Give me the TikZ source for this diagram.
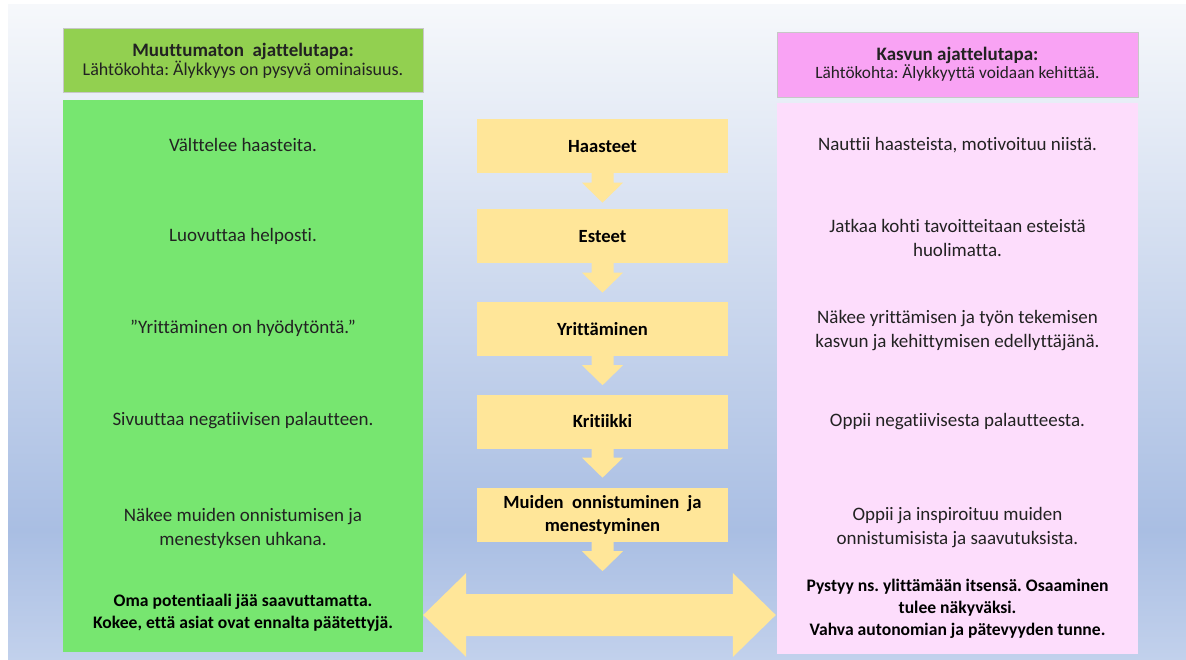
\documentclass[tikz,border=0pt]{standalone}
\usepackage{fontspec}
\setmainfont{Carlito}[Ligatures=NoCommon]
\frenchspacing
\usetikzlibrary{calc}
\definecolor{bgtop}{HTML}{F6F8FB}
\definecolor{bgmid}{HTML}{A9BEE3}
\definecolor{bgbot}{HTML}{C2D1EC}
\definecolor{lhead}{HTML}{92D050}
\definecolor{lbody}{HTML}{77E670}
\definecolor{rhead}{HTML}{F9A3F4}
\definecolor{rbody}{HTML}{FDDDFC}
\definecolor{yel}{HTML}{FFE699}
\definecolor{txt}{HTML}{222222}
\tikzset{
  headbox/.style={draw=black!22, line width=0.8pt, align=center, text=txt, inner sep=0pt},
  bodybox/.style={inner sep=0pt},
  flowbox/.style={fill=yel, minimum width=251pt, minimum height=54pt, inner sep=0pt, align=center, font=\fontsize{18.6}{23}\selectfont\bfseries, text=black},
  itemtext/.style={align=center, text=txt, font=\fontsize{19}{24}\selectfont},
  boldtext/.style={align=center, text=black, font=\fontsize{17.6}{22}\selectfont\bfseries},
  arrowfill/.style={fill=yel}
}
\newcommand\dnarrow[1]{\fill[arrowfill] ($(#1.south)+(-11,-1)$) -- ++(0,10) -- ++(-9.5,0) -- ++(20.5,20) -- ++(20.5,-20) -- ++(-9.5,0) -- ++(0,-10) -- cycle;}
\begin{document}
\begin{tikzpicture}[x=1pt,y=-1pt]
\useasboundingbox (0,0) rectangle (1186,660);
\fill[white] (0,0) rectangle (1186,660);
\shade[top color=bgtop, bottom color=bgmid] (8,5) rectangle (1186,530.5);
\shade[top color=bgmid, bottom color=bgbot] (8,530) rectangle (1186,660);

% columns
\node[headbox, fill=lhead, minimum width=360pt, minimum height=64pt] (lh) at (243,60.5)
  {\fontsize{19}{23}\selectfont\textbf{Muuttumaton\ \ ajattelutapa:}\\\fontsize{18}{23}\selectfont Lähtökohta: Älykkyys on pysyvä ominaisuus.};
\node[bodybox, fill=lbody, minimum width=360pt, minimum height=552pt] (lb) at (243,376) {};
\node[headbox, fill=rhead, minimum width=361pt, minimum height=65pt] (rh) at (957.5,64.5)
  {\fontsize{19}{23}\selectfont\textbf{Kasvun\ ajattelutapa:}\\\fontsize{17.3}{23}\selectfont Lähtökohta: Älykkyyttä voidaan kehittää.};
\node[bodybox, fill=rbody, minimum width=361pt, minimum height=551pt] (rb) at (957.5,378.5) {};

% left texts
\node[itemtext] (l1) at (243,145) {Välttelee haasteita.};
\node[itemtext] (l2) at (243,236) {Luovuttaa helposti.};
\node[itemtext] (l3) at (243,328) {”Yrittäminen on hyödytöntä.”};
\node[itemtext] (l4) at (243,421) {Sivuuttaa negatiivisen palautteen.};
\node[itemtext] (l5) at (243,528) {Näkee muiden onnistumisen ja\\menestyksen uhkana.};
\node[boldtext] (l6) at (243,613) {Oma potentiaali jää saavuttamatta.\\Kokee, että asiat ovat ennalta päätettyjä.};

% right texts
\node[itemtext] (r1) at (957.5,145) {Nauttii haasteista, motivoituu niistä.};
\node[itemtext] (r2) at (957.5,238) {Jatkaa kohti tavoitteitaan esteistä\\huolimatta.};
\node[itemtext] (r3) at (957.5,331) {Näkee yrittämisen ja työn tekemisen\\kasvun ja kehittymisen edellyttäjänä.};
\node[itemtext] (r4) at (957.5,422) {Oppii negatiivisesta palautteesta.};
\node[itemtext] (r5) at (957.5,528) {Oppii ja inspiroituu muiden\\onnistumisista ja saavutuksista.};
\node[boldtext] (r6) at (957.5,609) {Pystyy ns. ylittämään itsensä. Osaaminen\\tulee näkyväksi.\\Vahva autonomian ja pätevyyden tunne.};

% centre flow
\node[flowbox] (c1) at (602.5,146.5) {Haasteet};
\node[flowbox] (c2) at (602.5,236.5) {Esteet};
\node[flowbox] (c3) at (602.5,329) {Yrittäminen};
\node[flowbox] (c4) at (602.5,421.5) {Kritiikki};
\node[flowbox] (c5) at (602.5,515) {Muiden\ \ onnistuminen\ \ ja\\menestyminen};
\dnarrow{c1}
\dnarrow{c2}
\dnarrow{c3}
\dnarrow{c4}
\dnarrow{c5}

% double arrow
\coordinate (dl) at ($(lb.east)+(0,239)$);
\coordinate (dr) at ($(rb.west)+(-1,236.5)$);
\fill[arrowfill] (dl) -- ++(43,-42) -- ++(0,21) -- ($(dr)+(-43,-21)$) -- ++(0,-21) -- (dr) -- ++(-43,42) -- ++(0,-21) -- ($(dl)+(43,21)$) -- ++(0,21) -- cycle;
\end{tikzpicture}
\end{document}
